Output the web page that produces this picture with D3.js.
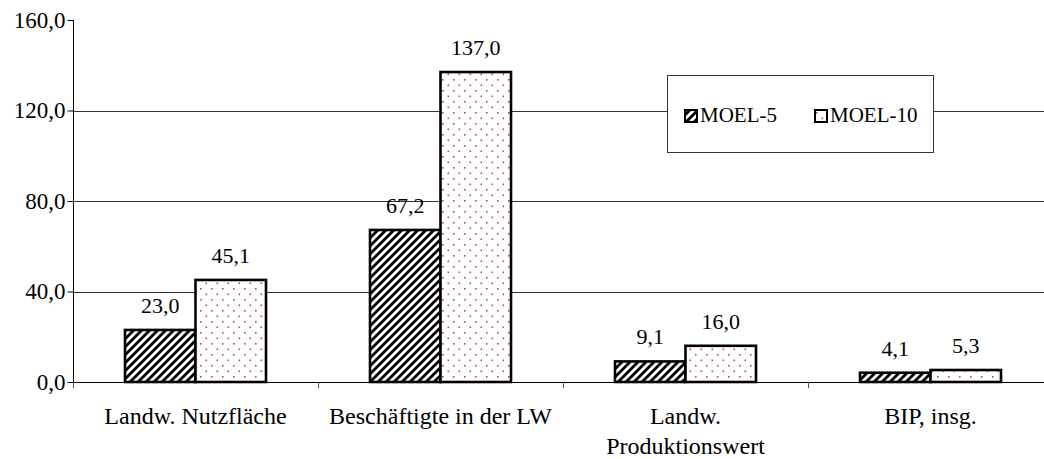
<!DOCTYPE html>
<html>
<head>
<meta charset="utf-8">
<script src="https://cdn.jsdelivr.net/npm/d3@7"></script>
<style>
  body { margin: 0; background: #fff; }
</style>
</head>
<body>
<svg width="1044" height="459"></svg>
<script>
const categories = [["Landw. Nutzfläche"], ["Beschäftigte in der LW"], ["Landw.", "Produktionswert"], ["BIP, insg."]];
const series = ["MOEL-5", "MOEL-10"];
const moel5 = [23.0, 67.2, 9.1, 4.1];
const moel10 = [45.1, 137.0, 16.0, 5.3];
const yTicks = [0, 40, 80, 120, 160];
const gridTicks = [40, 80, 120];

const serif = '"Liberation Serif"';
const axisFont = 24, tickFont = 23, labelFont = 22, legendFont = 21;

var svg = d3.select("svg");

// plot box (right edge runs past the picture, like the original)
const plotLeft = 73, plotRight = 1053, plotTop = 20, plotBottom = 382;

var defs = svg.append("defs");

var hatch = defs.append("pattern")
    .attr("id", "hatch")
    .attr("patternUnits", "userSpaceOnUse")
    .attr("width", 8)
    .attr("height", 8);
hatch.append("rect").attr("width", 8).attr("height", 8).attr("fill", "#fff");
hatch.append("path")
    .attr("d", "M-2,2 L2,-2 M0,8 L8,0 M6,10 L10,6")
    .attr("stroke", "#000")
    .attr("stroke-width", 2.8);

var dots = defs.append("pattern")
    .attr("id", "dots")
    .attr("patternUnits", "userSpaceOnUse")
    .attr("width", 11)
    .attr("height", 11);
dots.append("rect").attr("width", 11).attr("height", 11).attr("fill", "#fff");
dots.append("rect").attr("x", 2).attr("y", 2).attr("width", 1.6).attr("height", 1.6).attr("fill", "#c0407f");
dots.append("rect").attr("x", 7.5).attr("y", 7.5).attr("width", 1.6).attr("height", 1.6).attr("fill", "#c0407f");

const fills = ["url(#hatch)", "url(#dots)"];
const values = [moel5, moel10];

var x0 = d3.scaleBand()
    .domain(d3.range(categories.length))
    .range([plotLeft, plotRight]);

const barW = 70.5;
var x1 = d3.scaleBand()
    .domain(series)
    .range([0, x0.bandwidth()])
    .paddingOuter((x0.bandwidth() - 2 * barW) / (2 * barW));

var y = d3.scaleLinear()
    .domain([0, 160])
    .range([plotBottom, plotTop]);

// gridlines
svg.append("g")
    .selectAll("line")
    .data(gridTicks)
    .join("line")
    .attr("x1", plotLeft)
    .attr("x2", plotRight)
    .attr("y1", d => Math.round(y(d)) + 0.5)
    .attr("y2", d => Math.round(y(d)) + 0.5)
    .attr("stroke", "#333");

// bars
series.forEach((s, si) => {
    svg.append("g")
        .selectAll("rect")
        .data(values[si])
        .join("rect")
        .attr("x", (d, i) => x0(i) + x1(s))
        .attr("y", d => y(d))
        .attr("width", x1.bandwidth())
        .attr("height", d => y(0) - y(d))
        .attr("fill", fills[si])
        .attr("stroke", "#000")
        .attr("stroke-width", 2.6);

    svg.append("g")
        .selectAll("text")
        .data(values[si])
        .join("text")
        .attr("x", (d, i) => x0(i) + x1(s) + x1.bandwidth() / 2)
        .attr("y", d => y(d) - 17)
        .attr("text-anchor", "middle")
        .style("font-family", serif)
        .style("font-size", labelFont + "px")
        .text(d => d.toFixed(1).replace(".", ","));
});

// y axis
var yAxis = d3.axisLeft(y)
    .tickValues(yTicks)
    .tickSize(6)
    .tickPadding(2)
    .tickFormat(d => d.toFixed(1).replace(".", ","));

var gY = svg.append("g")
    .attr("transform", `translate(${plotLeft + 0.5},0)`)
    .call(yAxis);
gY.select(".domain").attr("d", `M0,${plotTop}V${plotBottom + 6}`);
gY.selectAll("text")
    .attr("fill", "#000")
    .style("font-family", serif)
    .style("font-size", tickFont + "px");
gY.selectAll("line").attr("stroke", "#000");

// x axis: baseline plus boundary ticks
var gX = svg.append("g");
gX.append("line")
    .attr("x1", plotLeft)
    .attr("x2", plotRight)
    .attr("y1", plotBottom + 0.5)
    .attr("y2", plotBottom + 0.5)
    .attr("stroke", "#000");
gX.selectAll(".xtick")
    .data(d3.range(categories.length + 1))
    .join("line")
    .attr("class", "xtick")
    .attr("x1", i => Math.round(plotLeft + i * x0.step()) + 0.5)
    .attr("x2", i => Math.round(plotLeft + i * x0.step()) + 0.5)
    .attr("y1", plotBottom)
    .attr("y2", plotBottom + 6)
    .attr("stroke", "#555");

gX.selectAll(".xlabel")
    .data(categories)
    .join("text")
    .attr("class", "xlabel")
    .attr("x", (d, i) => x0(i) + x0.bandwidth() / 2)
    .attr("y", 424)
    .attr("text-anchor", "middle")
    .style("font-family", serif)
    .style("font-size", axisFont + "px")
    .selectAll("tspan")
    .data(d => d)
    .join("tspan")
    .attr("x", function () { return this.parentNode.getAttribute("x"); })
    .attr("dy", (d, j) => j === 0 ? 0 : 30)
    .text(d => d);

// legend
var legend = svg.append("g");
legend.append("rect")
    .attr("x", 667.5)
    .attr("y", 75.5)
    .attr("width", 266)
    .attr("height", 77)
    .attr("fill", "#fff")
    .attr("stroke", "#333");

const legendX = [685, 815];
series.forEach((s, si) => {
    legend.append("rect")
        .attr("x", legendX[si])
        .attr("y", 110)
        .attr("width", 12)
        .attr("height", 12)
        .attr("fill", fills[si])
        .attr("stroke", "#000")
        .attr("stroke-width", 2);
    legend.append("text")
        .attr("x", legendX[si] + 15)
        .attr("y", 122)
        .style("font-family", serif)
        .style("font-size", legendFont + "px")
        .text(s);
});
</script>
</body>
</html>
